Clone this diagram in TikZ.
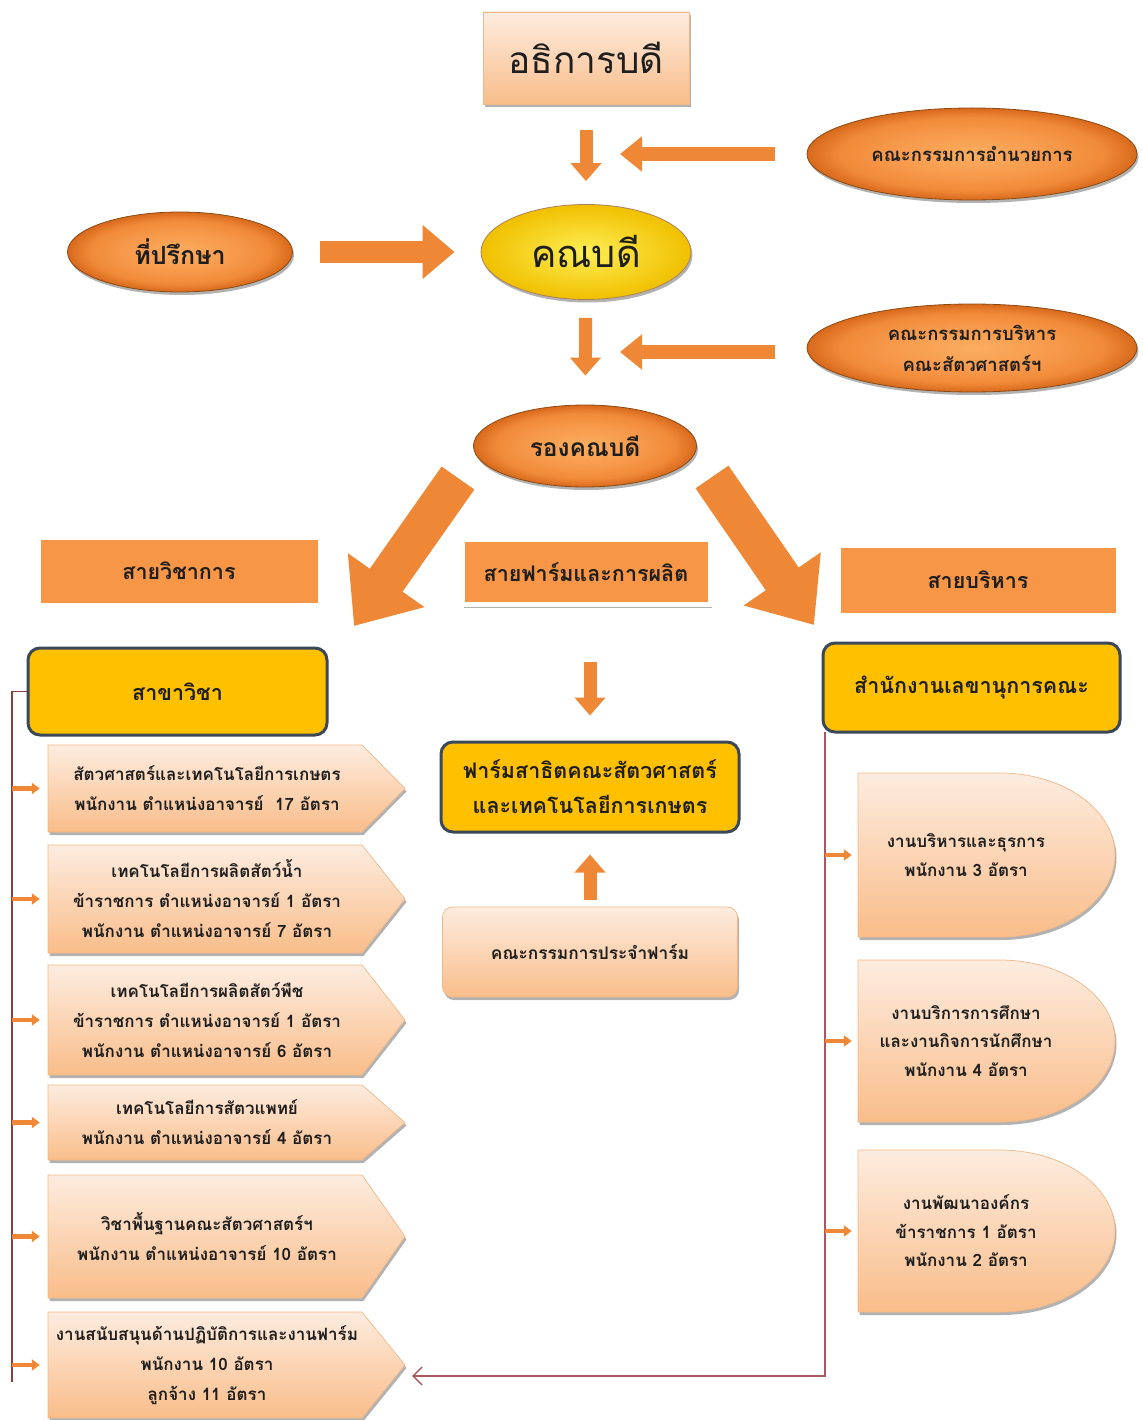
\documentclass[tikz,border=0pt]{standalone}
\usepackage{fontspec}
\setmainfont{Loma}[Script=Thai]
\usetikzlibrary{shapes.geometric,arrows.meta,shadows,calc}
\definecolor{orA}{HTML}{F79646}
\definecolor{orD}{HTML}{E26A12}
\definecolor{orL}{HTML}{FBAE60}
\definecolor{orB}{HTML}{F7984A}
\definecolor{orC}{HTML}{F08A38}
\definecolor{orE}{HTML}{D8691C}
\definecolor{orM}{HTML}{EF8836}
\definecolor{peL}{HTML}{FDECDF}
\definecolor{peD}{HTML}{F9BD8A}
\definecolor{peE}{HTML}{F0B888}
\definecolor{yelB}{HTML}{FFC000}
\definecolor{yelL}{HTML}{FFEE55}
\definecolor{yelD}{HTML}{F0C000}
\definecolor{slate}{HTML}{3A4858}
\definecolor{linC}{HTML}{A65A60}
\definecolor{linL}{HTML}{8E3E3E}
\definecolor{ellR}{HTML}{8A4A12}
\definecolor{txt}{HTML}{1E1E1E}
\pgfdeclareradialshading{ellsh}{\pgfpoint{0bp}{0bp}}{color(0bp)=(orL); color(13bp)=(orB); color(20bp)=(orC); color(25bp)=(orE); color(50bp)=(orE)}
\newcommand\LeftShape[2]{\path[peachbox] (48,#1) -- (362,#1) -- (405,{(#1+#2)/2}) -- (362,#2) -- (48,#2) -- cycle;}
\newcommand\RightShape[2]{\path[peachbox] (858,#1) -- (1000,#1) .. controls (1063.5,#1) and (1115,{(#1+#2)/2-0.5523*(#2-#1)/2}) .. (1115,{(#1+#2)/2}) .. controls (1115,{(#1+#2)/2+0.5523*(#2-#1)/2}) and (1063.5,#2) .. (1000,#2) -- (858,#2) -- cycle;}
\begin{document}
\begin{tikzpicture}[x=1pt,y=-1pt,
  every node/.style={text=txt},
  shadowed/.style={drop shadow={shadow xshift=1.5pt,shadow yshift=-3pt,opacity=.3,fill=black}},
  peachbox/.style={top color=peL,bottom color=peD,draw=peE,line width=.7pt,shadowed},
  ellO/.style={ellipse,inner sep=0pt,draw=ellR,line width=.8pt,shading=ellsh,shadowed,align=center},
  ellY/.style={ellipse,inner sep=0pt,draw=ellR!70,line width=.8pt,inner color=yelL,outer color=yelD,shadowed,align=center},
  linebox/.style={rectangle,inner sep=0pt,fill=orA,draw=white,line width=5pt,shadowed,font=\bfseries\fontsize{21.5}{26}\selectfont},
  yelbox/.style={rectangle,inner sep=0pt,rounded corners=12pt,fill=yelB,draw=slate,line width=3pt,align=center,font=\bfseries\fontsize{21.5}{26}\selectfont},
  lefttxt/.style={inner sep=0pt,minimum width=314pt,align=center,font=\bfseries\fontsize{17}{30}\selectfont},
  righttxt/.style={inner sep=0pt,minimum width=216pt,align=center,font=\bfseries\fontsize{17}{28.5}\selectfont},
  varr/.style={draw=orM,line width=13pt,-{Triangle[width=30pt,length=18pt]}},
  harr/.style={draw=orM,line width=14pt,-{Triangle[width=34pt,length=22pt]}},
  advarr/.style={draw=orM,line width=22pt,-{Triangle[width=52pt,length=32pt]}},
  bigarr/.style={draw=orM,line width=40pt,-{Triangle[width=90pt,length=56pt]}},
  smallarr/.style={draw=orM,line width=4.5pt,-{Triangle[width=11pt,length=8pt]}},
  linkline/.style={draw=linC,line width=1.3pt}
]
\useasboundingbox (0,0) rectangle (1142,1420);

% ---- top level
\node[rectangle,peachbox,minimum width=206pt,minimum height=92pt,font=\fontsize{37}{40}\selectfont] (pres) at (586,58) {อธิการบดี};
\node[ellO,minimum width=330pt,minimum height=92pt,font=\bfseries\fontsize{18.5}{30}\selectfont] (comm1) at (972,154) {คณะกรรมการอำนวยการ};
\node[ellO,minimum width=225pt,minimum height=80pt,font=\bfseries\fontsize{25}{28}\selectfont] (adv) at (180,252) {ที่ปรึกษา};
\node[ellY,minimum width=210pt,minimum height=95pt,font=\fontsize{38}{40}\selectfont] (dean) at (586,252) {คณบดี};
\node[ellO,minimum width=330pt,minimum height=88pt,font=\bfseries\fontsize{18.5}{31}\selectfont] (comm2) at (972,348) {คณะกรรมการบริหาร\\คณะสัตวศาสตร์ฯ};
\node[ellO,minimum width=223pt,minimum height=82pt,font=\bfseries\fontsize{24.5}{28}\selectfont] (vice) at (585,446) {รองคณบดี};

\coordinate (j1) at (586,154);
\coordinate (j2) at (586,352);
\draw[varr,shorten <=26pt,shorten >=23pt] (pres) -- (dean);
\draw[harr,shorten <=32pt,shorten >=34pt] (comm1) -- (j1);
\draw[advarr,shorten <=27pt,shorten >=26pt] (adv) -- (dean);
\draw[varr,shorten <=18pt,shorten >=29pt] (dean) -- (vice);
\draw[harr,shorten <=32pt,shorten >=34pt] (comm2.west |- j2) -- (j2);

% ---- lines (branches)
\node[linebox,minimum width=282pt,minimum height=68pt] (lineA) at (179,571) {สายวิชาการ};
\node[linebox,minimum width=248pt,minimum height=65pt] (lineF) at (586,572) {สายฟาร์มและการผลิต};
\node[linebox,minimum width=280pt,minimum height=70pt] (lineM) at (978,580) {สายบริหาร};

\coordinate (dlt) at (458,478);
\coordinate (dlh) at (354,626);
\coordinate (drt) at (712,477);
\coordinate (drh) at (814,625);
\draw[bigarr] (dlt) -- (dlh);
\draw[bigarr] (drt) -- (drh);

\node[yelbox,minimum width=299pt,minimum height=87pt] (brA) at (177.5,691.5) {สาขาวิชา};
\node[yelbox,minimum width=297pt,minimum height=89pt] (brM) at (971.5,687.5) {สำนักงานเลขานุการคณะ};

% ---- farm
\node[yelbox,minimum width=298pt,minimum height=90pt,font=\bfseries\fontsize{21.5}{35}\selectfont] (farm) at (590,787) {ฟาร์มสาธิตคณะสัตวศาสตร์\\และเทคโนโลยีการเกษตร};
\node[rectangle,rounded corners=10pt,peachbox,minimum width=295pt,minimum height=90pt,font=\bfseries\fontsize{17.3}{20}\selectfont] (farmc) at (590,952) {คณะกรรมการประจำฟาร์ม};
\draw[varr,shorten <=55pt,shorten >=25pt] (lineF.south -| farm.north) -- (farm.north);
\draw[varr,shorten <=7pt,shorten >=21pt] (farmc) -- (farm);

% ---- left column
\LeftShape{745}{832}
\LeftShape{845}{953}
\LeftShape{965}{1075}
\LeftShape{1085}{1160}
\LeftShape{1175}{1298}
\LeftShape{1312}{1418}
\node[lefttxt,minimum height=87pt] (L1) at (207,788.5) {สัตวศาสตร์และเทคโนโลยีการเกษตร\\พนักงาน ตำแหน่งอาจารย์~~17 อัตรา};
\node[lefttxt,minimum height=108pt] (L2) at (207,899) {เทคโนโลยีการผลิตสัตว์น้ำ\\ข้าราชการ ตำแหน่งอาจารย์ 1 อัตรา\\พนักงาน ตำแหน่งอาจารย์ 7 อัตรา};
\node[lefttxt,minimum height=110pt] (L3) at (207,1020) {เทคโนโลยีการผลิตสัตว์พืช\\ข้าราชการ ตำแหน่งอาจารย์ 1 อัตรา\\พนักงาน ตำแหน่งอาจารย์ 6 อัตรา};
\node[lefttxt,minimum height=75pt] (L4) at (207,1122.5) {เทคโนโลยีการสัตวแพทย์\\พนักงาน ตำแหน่งอาจารย์ 4 อัตรา};
\node[lefttxt,minimum height=123pt] (L5) at (207,1236.5) {วิชาพื้นฐานคณะสัตวศาสตร์ฯ\\พนักงาน ตำแหน่งอาจารย์ 10 อัตรา};
\node[lefttxt,minimum height=106pt] (L6) at (207,1365) {งานสนับสนุนด้านปฏิบัติการและงานฟาร์ม\\พนักงาน 10 อัตรา\\ลูกจ้าง 11 อัตรา};

\coordinate (lline) at (12,691.5);
\coordinate (lbot) at (12,1382);
\draw[linkline,draw=linL] (brA.west) -- (lline) -- (lbot);
\foreach \n in {L1,L2,L3,L4,L5,L6}
  \draw[smallarr,shorten >=10pt] (lline |- \n.west) -- (\n.west);

% ---- right column
\RightShape{773}{937}
\RightShape{960}{1122}
\RightShape{1150}{1312}
\node[righttxt,minimum height=164pt] (R1) at (966,855) {งานบริหารและธุรการ\\พนักงาน 3 อัตรา};
\node[righttxt,minimum height=162pt] (R2) at (966,1041) {งานบริการการศึกษา\\และงานกิจการนักศึกษา\\พนักงาน 4 อัตรา};
\node[righttxt,minimum height=162pt] (R3) at (966,1231) {งานพัฒนาองค์กร\\ข้าราชการ 1 อัตรา\\พนักงาน 2 อัตรา};

\coordinate (rtop) at (825,732);
\coordinate (rbot) at (825,1376);
\draw[linkline,-{Straight Barb[length=9pt,width=18pt]}] (rtop) -- (rbot) -- ([xshift=48pt,yshift=-11pt]L6.east);
\foreach \n in {R1,R2,R3}
  \draw[smallarr,shorten >=6pt] (rtop |- \n.west) -- (\n.west);
\end{tikzpicture}
\end{document}
